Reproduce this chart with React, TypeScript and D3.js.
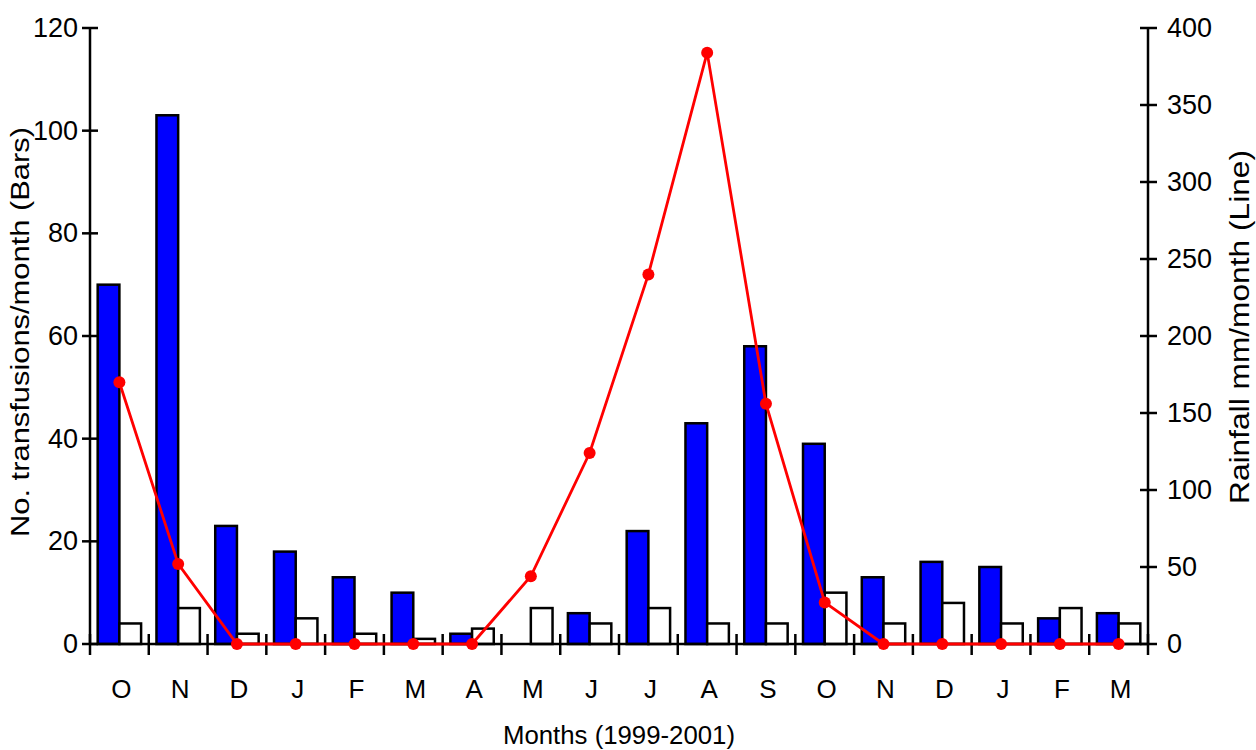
import React from "react";
import * as d3 from "d3";

// Month labels, October 1999 through March 2001
const monthLabels = ["O", "N", "D", "J", "F", "M", "A", "M", "J", "J", "A", "S", "O", "N", "D", "J", "F", "M"];

// Transfusions per month (bars, left axis)
const transfusionsFilled = [70, 103, 23, 18, 13, 10, 2, 0, 6, 22, 43, 58, 39, 13, 16, 15, 5, 6];
const transfusionsOpen = [4, 7, 2, 5, 2, 1, 3, 7, 4, 7, 4, 4, 10, 4, 8, 4, 7, 4];

// Rainfall mm/month (line, right axis)
const rainfall = [170, 52, 0, 0, 0, 0, 0, 44, 124, 240, 384, 156, 27, 0, 0, 0, 0, 0];

const leftTicks = [0, 20, 40, 60, 80, 100, 120];
const rightTicks = [0, 50, 100, 150, 200, 250, 300, 350, 400];

const W = 1256;
const H = 750;
const plotLeft = 90;
const plotRight = 1148;
const plotTop = 28;
const plotBottom = 644;

const FONT = "'Liberation Sans', Arial, Helvetica, sans-serif";

export default function App() {
  const idx = monthLabels.map((_, i) => i);
  const x = d3.scaleBand<number>().domain(idx).range([plotLeft, plotRight]).padding(0);
  const sub = d3
    .scaleBand<string>()
    .domain(["filled", "open"])
    .range([0, x.bandwidth()])
    .paddingInner(0)
    .paddingOuter(0.354);
  const yL = d3.scaleLinear().domain([0, 120]).range([plotBottom, plotTop]);
  const yR = d3.scaleLinear().domain([0, 400]).range([plotBottom, plotTop]);

  const cx = (i: number) => (x(i) as number) + x.bandwidth() / 2;

  const line = d3
    .line<number>()
    .x((_, i) => cx(i))
    .y((d) => yR(d));

  const boundaries = d3.range(monthLabels.length + 1).map((i) => plotLeft + i * x.step());

  return (
    <div style={{ position: "absolute", left: 0, top: 0 }}>
      <svg width={W} height={H} style={{ display: "block", background: "#fff" }}>
        {/* bars */}
        {idx.map((i) => {
          const x0 = x(i) as number;
          const v1 = transfusionsFilled[i];
          const v2 = transfusionsOpen[i];
          return (
            <g key={i}>
              {v1 > 0 && (
                <rect
                  x={x0 + (sub("filled") as number)}
                  y={yL(v1)}
                  width={sub.bandwidth()}
                  height={yL(0) - yL(v1)}
                  fill="#0000ff"
                  stroke="#000"
                  strokeWidth={2.5}
                />
              )}
              {v2 > 0 && (
                <rect
                  x={x0 + (sub("open") as number)}
                  y={yL(v2)}
                  width={sub.bandwidth()}
                  height={yL(0) - yL(v2)}
                  fill="#fff"
                  stroke="#000"
                  strokeWidth={2.5}
                />
              )}
            </g>
          );
        })}

        {/* axes */}
        <g stroke="#000" strokeWidth={2.5}>
          <line x1={plotLeft} x2={plotLeft} y1={plotTop} y2={plotBottom} />
          <line x1={plotRight} x2={plotRight} y1={plotTop} y2={plotBottom} />
          <line x1={plotLeft} x2={plotRight} y1={plotBottom} y2={plotBottom} />
          {leftTicks.map((t) => (
            <line key={"l" + t} x1={plotLeft - 8} x2={plotLeft + 8} y1={yL(t)} y2={yL(t)} />
          ))}
          {rightTicks.map((t) => (
            <line key={"r" + t} x1={plotRight - 8} x2={plotRight + 9} y1={yR(t)} y2={yR(t)} />
          ))}
          {boundaries.map((b, i) => (
            <line key={"x" + i} x1={b} x2={b} y1={plotBottom - 10} y2={plotBottom + 11} />
          ))}
        </g>

        {/* rainfall line */}
        <path d={line(rainfall) || ""} fill="none" stroke="#ff0000" strokeWidth={2.8} />
        {rainfall.map((d, i) => (
          <circle key={"p" + i} cx={cx(i)} cy={yR(d)} r={6} fill="#ff0000" />
        ))}

        {/* tick labels */}
        <g fontFamily={FONT} fontSize={27} fill="#000">
          {leftTicks.map((t) => (
            <text key={"lt" + t} x={78} y={yL(t)} textAnchor="end" dominantBaseline="central">
              {t}
            </text>
          ))}
          {rightTicks.map((t) => (
            <text key={"rt" + t} x={1167} y={yR(t)} textAnchor="start" dominantBaseline="central">
              {t}
            </text>
          ))}
        </g>
        <g fontFamily={FONT} fontSize={26} fill="#000">
          {monthLabels.map((m, i) => (
            <text key={"m" + i} x={cx(i) + 2} y={698} textAnchor="middle">
              {m}
            </text>
          ))}
        </g>

        {/* axis titles */}
        <text
          x={619}
          y={744}
          textAnchor="middle"
          fontFamily={FONT}
          fontSize={26}
          textLength={232}
          lengthAdjust="spacingAndGlyphs"
        >
          Months (1999-2001)
        </text>
        <text
          transform="translate(29,332) rotate(-90)"
          textAnchor="middle"
          fontFamily={FONT}
          fontSize={26}
          textLength={410}
          lengthAdjust="spacingAndGlyphs"
        >
          No. transfusions/month (Bars)
        </text>
        <text
          transform="translate(1249,327) rotate(-90)"
          textAnchor="middle"
          fontFamily={FONT}
          fontSize={27}
          textLength={354}
          lengthAdjust="spacingAndGlyphs"
        >
          Rainfall mm/month (Line)
        </text>
      </svg>
    </div>
  );
}
